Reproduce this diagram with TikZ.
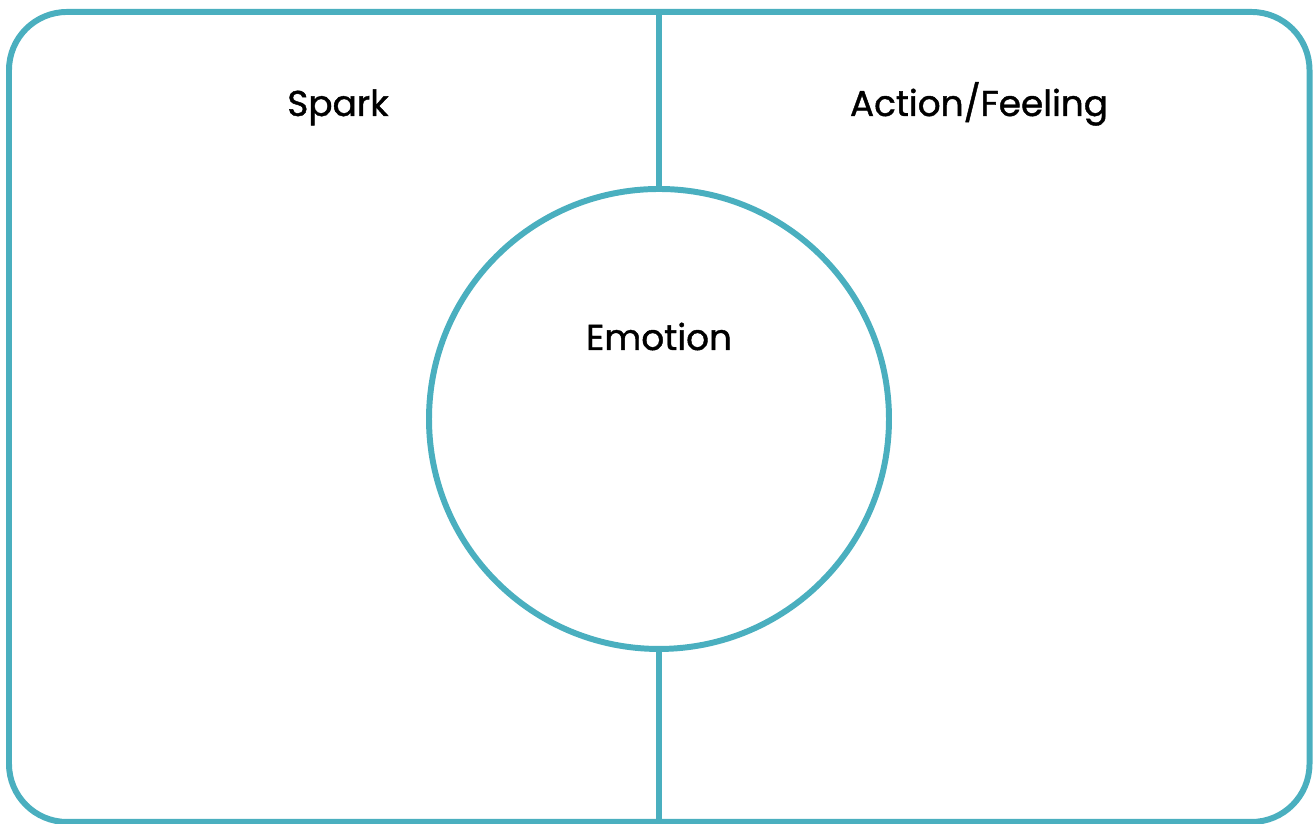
\documentclass[tikz,border=0pt]{standalone}
\usepackage{fontspec}
\setmainfont{Poppins}[BoldFont=Poppins, BoldFeatures={FakeBold=1.2}]
\definecolor{teal}{HTML}{4AAFBF}

\begin{document}
\begin{tikzpicture}[
frame/.style={draw=teal, line width=1.7pt, rounded corners=0.58cm},
ring/.style={circle, draw=teal, line width=1.7pt, minimum size=4.6cm, inner sep=0pt},
divider/.style={draw=teal, line width=1.7pt},
label/.style={font=\fontsize{10.2}{12}\selectfont\bfseries, text=black, anchor=base}
]
  \useasboundingbox (0,0) rectangle (13.13,8.24);

  \draw[frame] (0.09,0.02) rectangle (13.095,8.12);
  \node[ring] (E) at (6.59,4.05) {};

  \coordinate (top) at (6.59,8.12);
  \coordinate (bottom) at (6.59,0.02);

  \node[label] (s) at (3.38,7.08) {Spark};
  \node[label] (a) at (9.79,7.08) {Action/Feeling};
  \node[label] (e) at (6.59,4.74) {Emotion};

  \draw[divider] (top) -- (E.north)
                 (E.south) -- (bottom);
\end{tikzpicture}
\end{document}
